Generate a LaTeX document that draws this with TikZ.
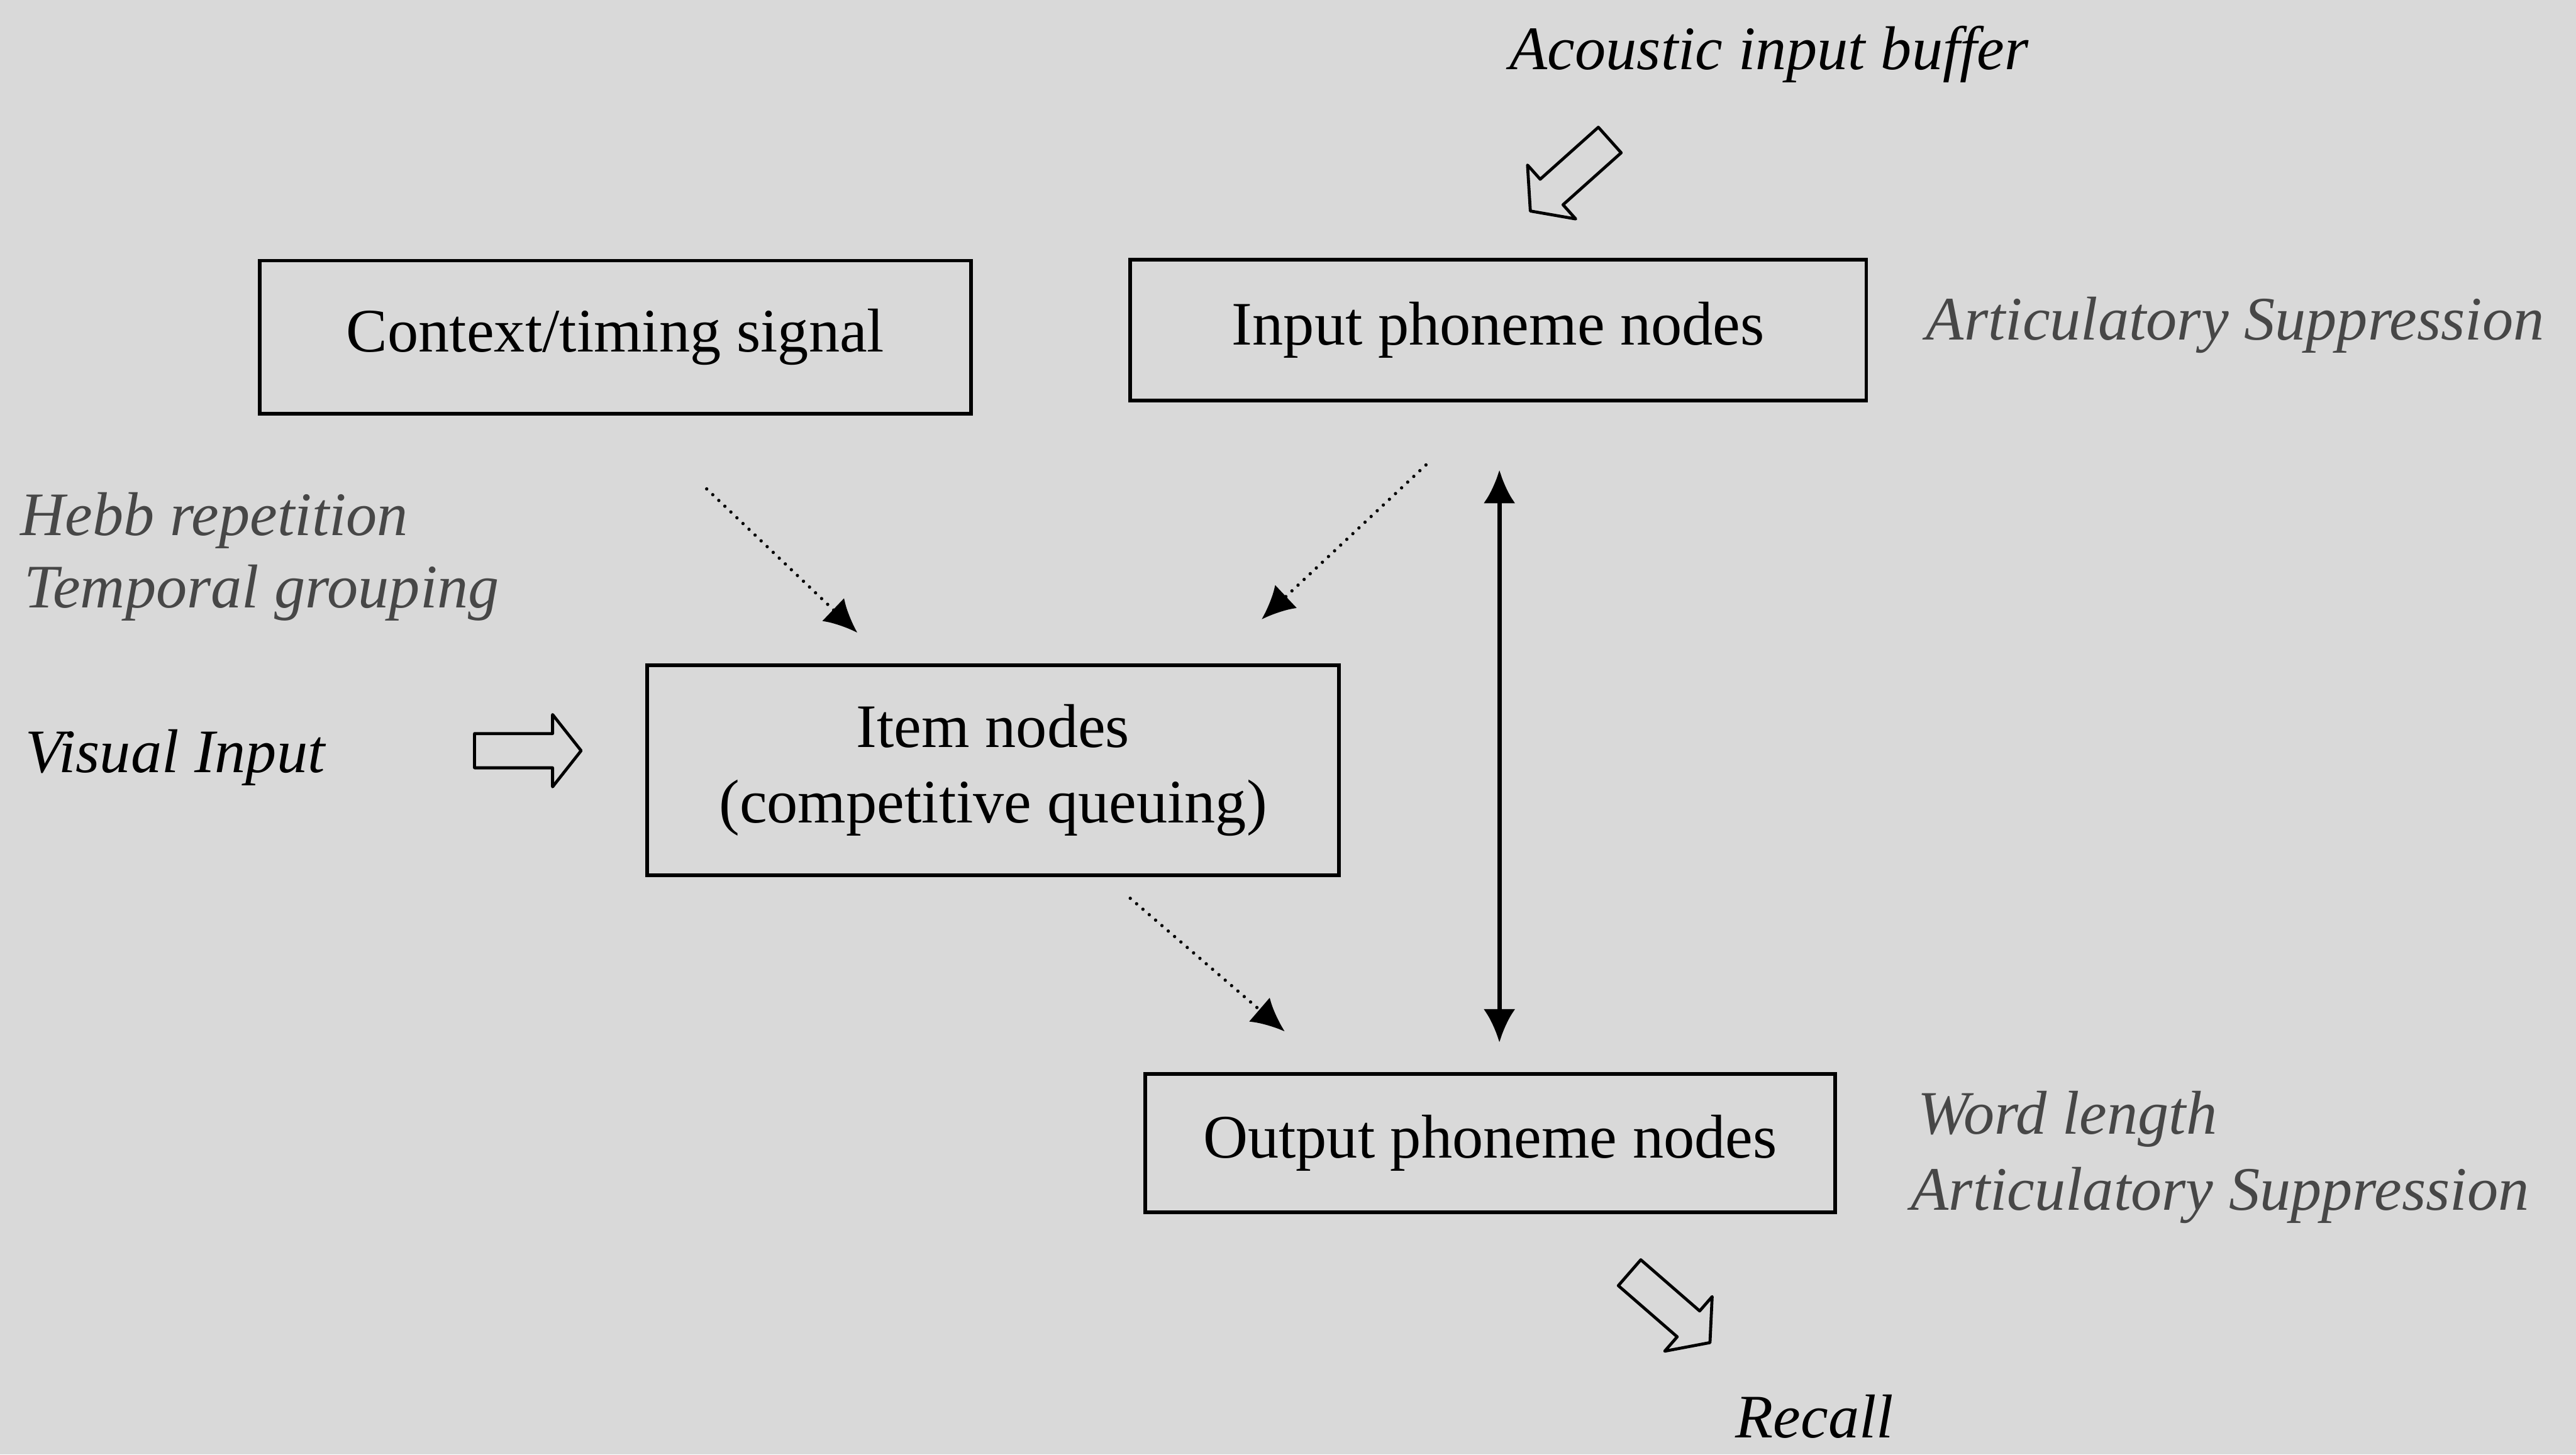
\documentclass[tikz,border=0pt]{standalone}
\usepackage{fontspec}
\setmainfont{Liberation Serif}
\usetikzlibrary{arrows.meta}
\definecolor{paper}{gray}{0.85}
\newcommand{\hollowarrow}[3]{\draw[line width=0.9pt, line join=round, shift={(#1,#2)}, rotate=#3] (0,-0.45) -- (2.05,-0.45) -- (2.05,-0.95) -- (2.8,0) -- (2.05,0.95) -- (2.05,0.45) -- (0,0.45) -- cycle;}

\begin{document}
\begin{tikzpicture}[x=0.4cm,y=0.4cm,
  box/.style={draw, line width=1.1pt, inner sep=0pt, align=center, font=\fontsize{18.5}{22.5}\selectfont},
  cue/.style={anchor=base west, inner sep=0pt, font=\fontsize{18.5}{22.5}\selectfont\itshape, text=black!72},
  tag/.style={inner sep=0pt, font=\fontsize{18.5}{22.5}\selectfont\itshape},
  dotlink/.style={line width=1pt, line cap=round, dash pattern=on 0pt off 2.5pt, -{Latex[length=10pt,width=9.5pt]}},
  loop/.style={line width=1.35pt, {Latex[length=10pt,width=9.5pt]}-{Latex[length=10pt,width=9.5pt]}}]
\fill[paper] (0,0) rectangle (67.69,38.23);
\useasboundingbox (0,0) rectangle (67.69,38.23);

\node[box, minimum width=7.48cm, minimum height=1.612cm] (ctx) at (16.17,29.365) {Context/timing signal};
\node[box, minimum width=7.736cm, minimum height=1.484cm] (inph) at (39.37,29.555) {Input phoneme nodes};
\node[box, minimum width=7.268cm, minimum height=2.212cm] (item) at (26.095,17.985) {Item nodes\\(competitive queuing)};
\node[box, minimum width=7.252cm, minimum height=1.452cm] (outph) at (39.155,8.185) {Output phoneme nodes};

\node[tag, anchor=base] (acoustic) at (46.49,36.41) {Acoustic input buffer};
\node[tag, anchor=base west] (visual) at (0.65,17.93) {Visual Input};
\node[tag, anchor=base] (recall) at (47.68,0.45) {Recall};
\node[cue] (suppin) at (50.60,29.30) {Articulatory Suppression};
\node[cue] (hebb) at (0.52,24.16) {Hebb repetition};
\node[cue] (grouping) at (0.62,22.25) {Temporal grouping};
\node[cue] (wordlen) at (50.37,8.43) {Word length};
\node[cue] (suppout) at (50.20,6.43) {Articulatory Suppression};

\coordinate (fromctx) at (18.57,25.38);
\coordinate (toitemA) at (22.53,21.60);
\coordinate (frominph) at (37.47,26.01);
\coordinate (toitemB) at (33.15,21.95);
\coordinate (fromitem) at (29.70,14.62);
\coordinate (tooutph) at (33.76,11.12);
\coordinate (looptop) at (39.40,25.88);
\coordinate (loopbot) at (39.40,10.83);

\draw[dotlink] (fromctx) -- (toitemA);
\draw[dotlink] (frominph) -- (toitemB);
\draw[dotlink] (fromitem) -- (tooutph);
\draw[loop] (loopbot) -- (looptop);

\hollowarrow{42.30}{34.55}{221.8}
\hollowarrow{12.47}{18.50}{0}
\hollowarrow{42.82}{4.78}{-41}
\end{tikzpicture}
\end{document}
